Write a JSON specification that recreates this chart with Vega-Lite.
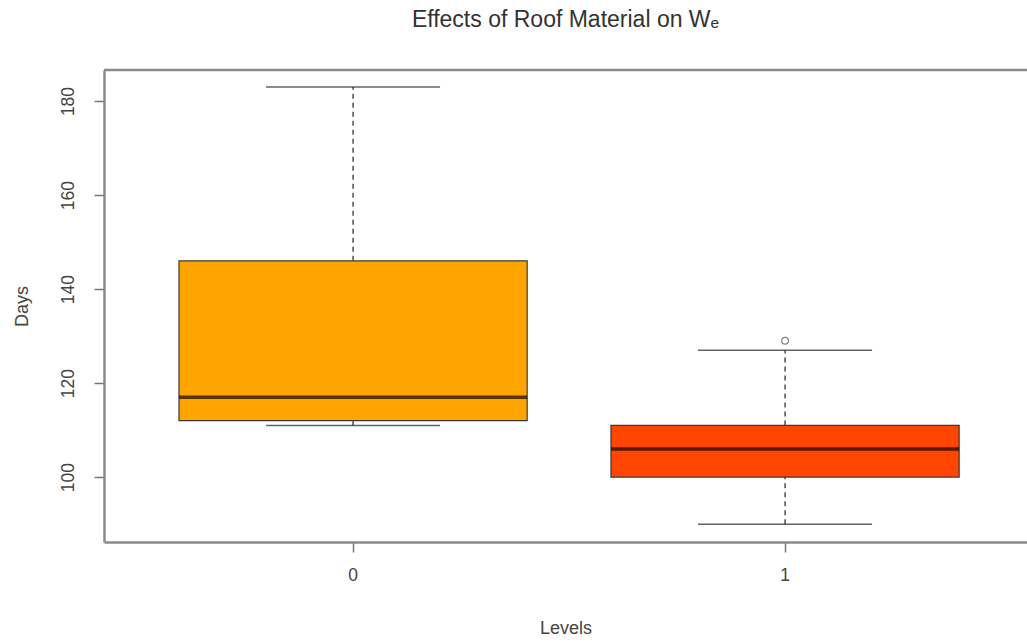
{
  "$schema": "https://vega.github.io/schema/vega-lite/v6.json",
  "autosize": {"type": "none"},
  "padding": {"left": 104, "top": 70, "right": 0, "bottom": 100},
  "width": 923,
  "height": 472,
  "background": "white",
  "title": {
    "text": "Effects of Roof Material on Wₑ",
    "font": "Liberation Sans",
    "fontSize": 23,
    "fontWeight": "normal",
    "color": "#333333",
    "anchor": "middle",
    "offset": 37
  },
  "datasets": {
    "boxes": [
      {"level": "0", "lower": 111, "q1": 112, "median": 117, "q3": 146, "upper": 183},
      {"level": "1", "lower": 90, "q1": 100, "median": 106, "q3": 111, "upper": 127}
    ],
    "outliers": [
      {"level": "1", "value": 129}
    ],
    "frame": [
      {"top": 186.6}
    ]
  },
  "config": {
    "view": {"stroke": null},
    "axis": {
      "labelFont": "Liberation Sans",
      "titleFont": "Liberation Sans",
      "labelFontSize": 17.5,
      "titleFontSize": 18,
      "titleFontWeight": "normal",
      "labelColor": "#444444",
      "titleColor": "#444444",
      "tickColor": "#777777",
      "tickWidth": 1.5,
      "tickSize": 10,
      "domainColor": "#8a8a8a",
      "domainWidth": 2.5,
      "grid": false
    }
  },
  "layer": [
    {
      "data": {"name": "boxes"},
      "mark": {"type": "rule", "strokeDash": [5, 4], "color": "#333333", "strokeWidth": 1.3},
      "encoding": {
        "x": {
          "field": "level",
          "type": "nominal",
          "scale": {"type": "band", "domain": ["0", "1"], "paddingInner": 0.194, "paddingOuter": 0.1653, "align": 0.525},
          "axis": {"title": "Levels", "labelAngle": 0, "labelPadding": 14, "titleY": 86, "titleBaseline": "middle", "domain": true}
        },
        "y": {
          "field": "lower",
          "type": "quantitative",
          "scale": {"domain": [86.2, 186.6], "nice": false, "zero": false},
          "axis": {"title": "Days", "values": [100, 120, 140, 160, 180], "labelAngle": -90, "labelAlign": "center", "labelBaseline": "bottom", "labelPadding": 17, "titleX": -82, "titleY": 236, "titleBaseline": "middle", "titleAlign": "center", "domain": true}
        },
        "y2": {"field": "q1"}
      }
    },
    {
      "data": {"name": "boxes"},
      "mark": {"type": "rule", "strokeDash": [5, 4], "color": "#333333", "strokeWidth": 1.3},
      "encoding": {
        "x": {"field": "level", "type": "nominal"},
        "y": {"field": "q3", "type": "quantitative"},
        "y2": {"field": "upper"}
      }
    },
    {
      "data": {"name": "boxes"},
      "mark": {"type": "tick", "size": 174, "thickness": 1.5, "color": "#222222", "orient": "horizontal"},
      "encoding": {
        "x": {"field": "level", "type": "nominal"},
        "y": {"field": "lower", "type": "quantitative"}
      }
    },
    {
      "data": {"name": "boxes"},
      "mark": {"type": "tick", "size": 174, "thickness": 1.5, "color": "#222222", "orient": "horizontal"},
      "encoding": {
        "x": {"field": "level", "type": "nominal"},
        "y": {"field": "upper", "type": "quantitative"}
      }
    },
    {
      "data": {"name": "boxes"},
      "mark": {"type": "bar", "stroke": "#3a3a3a", "strokeWidth": 1.2},
      "encoding": {
        "x": {"field": "level", "type": "nominal"},
        "y": {"field": "q1", "type": "quantitative"},
        "y2": {"field": "q3"},
        "color": {
          "field": "level",
          "type": "nominal",
          "scale": {"domain": ["0", "1"], "range": ["#FFA500", "#FF4500"]},
          "legend": null
        }
      }
    },
    {
      "data": {"name": "boxes"},
      "mark": {"type": "tick", "size": 348, "thickness": 3.5, "color": "#140500", "orient": "horizontal"},
      "encoding": {
        "x": {"field": "level", "type": "nominal"},
        "y": {"field": "median", "type": "quantitative"}
      }
    },
    {
      "data": {"name": "outliers"},
      "mark": {"type": "point", "shape": "circle", "filled": false, "size": 45, "stroke": "#555555", "strokeWidth": 1.3},
      "encoding": {
        "x": {"field": "level", "type": "nominal"},
        "y": {"field": "value", "type": "quantitative"}
      }
    },
    {
      "data": {"name": "frame"},
      "mark": {"type": "rule", "color": "#8a8a8a", "strokeWidth": 2.5},
      "encoding": {
        "y": {"field": "top", "type": "quantitative"}
      }
    }
  ]
}
